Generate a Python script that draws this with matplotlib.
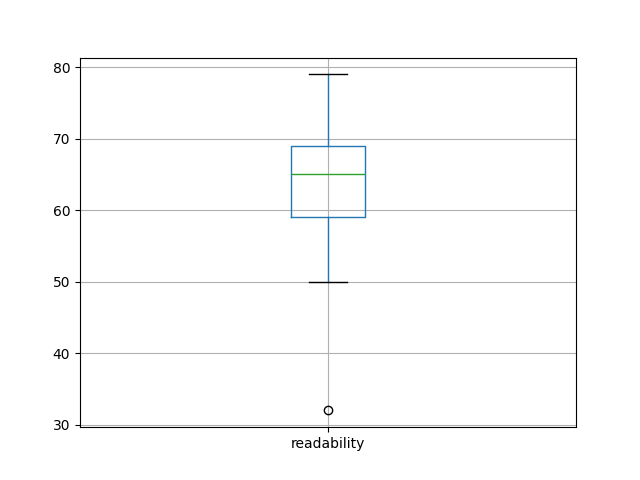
import pandas as pd
import matplotlib
matplotlib.use("Agg")
import matplotlib.pyplot as plt

# readability scores (chosen so quartiles / whiskers / outlier match the picture)
readability = [32, 50, 55, 59, 59, 62, 65, 65, 67, 69, 69, 72, 79]

df = pd.DataFrame({"readability": readability})

fig = plt.figure(figsize=(6.4, 4.8), dpi=100)
ax = fig.gca()
df.boxplot(ax=ax)
fig.savefig("out.png")
